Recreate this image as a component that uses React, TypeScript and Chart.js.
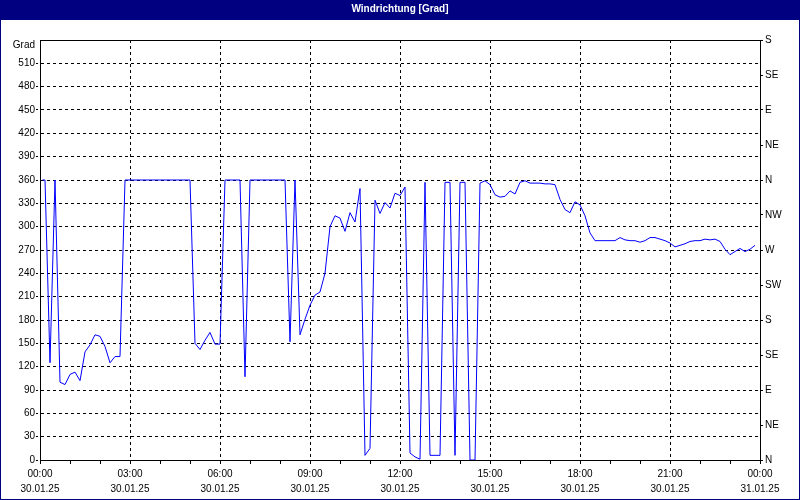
import { useEffect, useRef } from "react";
import { Chart, registerables } from "chart.js";

Chart.register(...registerables);

// time of day in minutes since 30.01.25 00:00
const minutes = [
  5, 10, 20, 30, 40, 50, 60, 70, 80, 90, 100, 110, 120, 130, 140, 150, 160, 170,
  300, 310, 320, 330, 340, 350, 360, 370,
  400, 410, 420,
  490, 500, 510, 520, 530, 540, 550, 560, 570, 580, 590, 600, 610, 620, 630, 640,
  650, 660, 670, 680, 690, 700, 710, 720, 730, 740, 750, 760, 770, 780, 790, 800,
  810, 820, 830, 840, 850, 860, 870, 880, 890, 900, 910, 920, 930, 940, 950, 960,
  970, 980, 990, 1000, 1010, 1020, 1030, 1040, 1050, 1060, 1070, 1080, 1090, 1100,
  1110, 1120, 1130, 1140, 1150, 1160, 1170, 1180, 1190, 1200, 1210, 1220, 1230,
  1240, 1250, 1260, 1270, 1280, 1290, 1300, 1310, 1320, 1330, 1340, 1350, 1360,
  1370, 1380, 1390, 1400, 1410, 1420, 1430,
];

// wind direction in degrees
const degrees = [
  360, 360, 125, 360, 100, 97, 110, 113, 102, 139, 148, 161, 159, 146, 125, 133, 133, 360,
  360, 150, 142, 154, 164, 149, 149, 360,
  360, 107, 360,
  360, 152, 360, 161, 181, 199, 212, 216, 240, 300, 314, 311, 294, 318, 306, 349,
  6, 15, 334, 317, 331, 324, 343, 340, 351, 9, 4, 1, 357, 6, 6, 6,
  357, 357, 6, 357, 357, 0, 0, 356, 359, 354, 341, 338, 339, 346, 342, 357,
  359, 356, 356, 356, 355, 355, 354, 335, 322, 318, 332, 328, 314, 292,
  282, 282, 282, 282, 282, 286, 283, 282, 282, 280, 282, 286, 286,
  284, 282, 279, 274, 276, 278, 281, 282, 282, 284, 283, 284, 281,
  271, 264, 268, 272, 268, 271, 276,
];

const xTickTimes = ["00:00", "03:00", "06:00", "09:00", "12:00", "15:00", "18:00", "21:00", "00:00"];
const xTickDates = ["30.01.25", "30.01.25", "30.01.25", "30.01.25", "30.01.25", "30.01.25", "30.01.25", "30.01.25", "31.01.25"];
const compassLabels = ["N", "NE", "E", "SE", "S", "SW", "W", "NW", "N", "NE", "E", "SE", "S"];
const yUnitLabel = "Grad";
const titleText = "Windrichtung [Grad]";

const FONT = "'Liberation Sans', Arial, sans-serif";

export default function App() {
  const ref = useRef<HTMLCanvasElement | null>(null);

  useEffect(() => {
    const canvas = ref.current;
    if (!canvas) return;

    const framePlugin = {
      id: "frame",
      beforeDraw(chart: any) {
        const { ctx, width, height } = chart;
        ctx.save();
        ctx.fillStyle = "#ffffff";
        ctx.fillRect(0, 0, width, height);
        ctx.fillStyle = "#000080";
        ctx.fillRect(0, 0, width, 20);
        ctx.restore();
      },
      afterDraw(chart: any) {
        const { ctx, width, height, chartArea } = chart;
        ctx.save();
        ctx.strokeStyle = "#000000";
        ctx.lineWidth = 1;
        ctx.beginPath();
        ctx.moveTo(chartArea.left, Math.round(chartArea.top) + 0.5);
        ctx.lineTo(chartArea.right + 1, Math.round(chartArea.top) + 0.5);
        ctx.stroke();
        ctx.strokeStyle = "#000080";
        ctx.strokeRect(0.5, 0.5, width - 1, height - 1);
        ctx.restore();
      },
    };

    const chart = new Chart(canvas, {
      type: "line",
      data: {
        datasets: [
          {
            data: minutes.map((m, i) => ({ x: m, y: degrees[i] })),
            borderColor: "#0000ff",
            borderWidth: 1,
            pointRadius: 0,
            tension: 0,
            fill: false,
          },
        ],
      },
      options: {
        animation: false,
        responsive: false,
        maintainAspectRatio: false,
        layout: { padding: 0 },
        plugins: {
          legend: { display: false },
          tooltip: { enabled: false },
          title: {
            display: true,
            text: titleText,
            color: "#ffffff",
            font: { family: FONT, size: 10, weight: "bold", lineHeight: 1.2 },
            padding: { top: 3, bottom: 25 },
          },
        },
        scales: {
          x: {
            type: "linear",
            min: 0,
            max: 1440,
            afterFit: (s: any) => {
              s.height = 40;
            },
            ticks: {
              stepSize: 60,
              autoSkip: false,
              maxRotation: 0,
              padding: 3,
              color: "#000000",
              font: { family: FONT, size: 10, lineHeight: 1.5 },
              callback: (v: any) => {
                const n = Number(v);
                if (n % 180 !== 0) return "";
                const i = n / 180;
                return [xTickTimes[i], xTickDates[i]];
              },
            },
            grid: {
              color: (c: any) => (c.tick && c.tick.value % 180 === 0 ? "#000000" : "rgba(0,0,0,0)"),
              tickColor: "#000000",
              tickLength: 4,
              lineWidth: 1,
            },
            border: { display: true, color: "#000000", width: 1, dash: [3, 3] },
          },
          y: {
            type: "linear",
            position: "left",
            min: 0,
            max: 540,
            afterFit: (s: any) => {
              s.width = 40;
            },
            ticks: {
              stepSize: 30,
              autoSkip: false,
              padding: 1,
              color: "#000000",
              font: { family: FONT, size: 10, lineHeight: 1.1 },
              callback: (v: any) => (Number(v) === 540 ? ["", yUnitLabel] : String(v)),
            },
            grid: {
              color: "#000000",
              tickColor: (c: any) => (c.tick && c.tick.value === 540 ? "rgba(0,0,0,0)" : "#000000"),
              tickLength: 4,
              lineWidth: 1,
              tickBorderDash: [2, 2],
            },
            border: { display: true, color: "#000000", width: 1, dash: [3, 3] },
          },
          y2: {
            type: "linear",
            position: "right",
            min: 0,
            max: 540,
            afterFit: (s: any) => {
              s.width = 40;
            },
            ticks: {
              stepSize: 45,
              autoSkip: false,
              padding: 2,
              color: "#000000",
              font: { family: FONT, size: 10 },
              callback: (v: any) => compassLabels[Math.round(Number(v) / 45)] ?? "",
            },
            grid: {
              drawOnChartArea: false,
              tickColor: "#000000",
              tickLength: 3,
            },
            border: { display: true, color: "#000000", width: 1 },
          },
        },
      },
      plugins: [framePlugin],
    } as any);

    return () => chart.destroy();
  }, []);

  return (
    <div style={{ position: "absolute", left: 0, top: 0, width: 800, height: 500 }}>
      <canvas ref={ref} width={800} height={500} />
    </div>
  );
}
